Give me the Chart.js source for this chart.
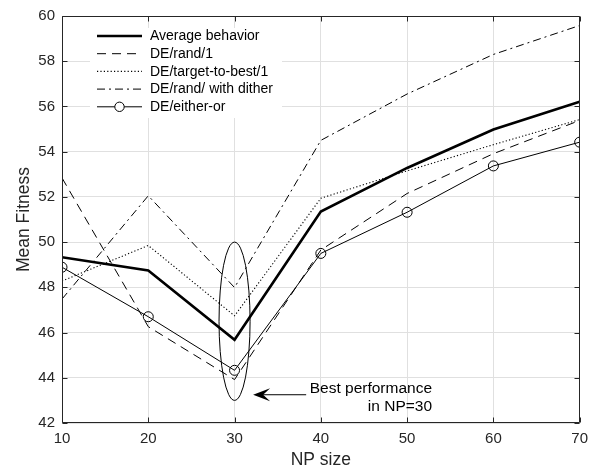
<!DOCTYPE html>
<html>
<head>
<meta charset="utf-8">
<script src="https://cdn.jsdelivr.net/npm/chart.js@4/dist/chart.umd.min.js"></script>
<style>
  html, body { margin: 0; padding: 0; background: #fff; }
  #wrap { width: 595px; height: 471px; }
</style>
</head>
<body>
<div id="wrap"><canvas id="c" width="595" height="471"></canvas></div>
<script>
// ---- data ----
const npSizes = [10, 20, 30, 40, 50, 60, 70];
const avgBehavior     = [49.33, 48.75, 45.68, 51.35, 53.28, 54.98, 56.21];
const deRand1         = [52.84, 46.26, 43.92, 49.65, 52.15, 53.91, 55.38];
const deTargetToBest1 = [48.28, 49.85, 46.74, 51.94, 53.15, 54.31, 55.42];
const deRandDither    = [47.48, 52.05, 47.99, 54.50, 56.55, 58.30, 59.58];
const deEitherOr      = [48.89, 46.70, 44.33, 49.50, 51.32, 53.37, 54.42];

const seriesNames = ['Average behavior', 'DE/rand/1', 'DE/target-to-best/1', 'DE/rand/ with dither', 'DE/either-or'];
const xTicks = [10, 20, 30, 40, 50, 60, 70];
const yTicks = [42, 44, 46, 48, 50, 52, 54, 56, 58, 60];

const annotationLines = ['Best performance', 'in NP=30'];

const FONT = "'Liberation Sans', Arial, Helvetica, sans-serif";
const AXIS_COLOR = '#262626';

function toPoints(ys) { return npSizes.map((x, i) => ({ x: x, y: ys[i] })); }

const styles = [
  { borderWidth: 2.6, borderDash: [], marker: false },
  { borderWidth: 1, borderDash: [9, 6], marker: false },
  { borderWidth: 1.1, borderDash: [1.2, 2.2], marker: false },
  { borderWidth: 1, borderDash: [8, 4, 2, 4], marker: false },
  { borderWidth: 1, borderDash: [], marker: true }
];
const allSeries = [avgBehavior, deRand1, deTargetToBest1, deRandDither, deEitherOr];

const datasets = allSeries.map((ys, i) => ({
  label: seriesNames[i],
  data: toPoints(ys),
  borderColor: '#000',
  backgroundColor: 'rgba(0,0,0,0)',
  borderWidth: styles[i].borderWidth,
  borderDash: styles[i].borderDash,
  tension: 0,
  pointRadius: styles[i].marker ? 5 : 0,
  pointBorderWidth: 1,
  pointBorderColor: '#000',
  pointBackgroundColor: 'rgba(0,0,0,0)',
  pointStyle: 'circle',
  fill: false
}));

const decorPlugin = {
  id: 'decor',
  afterDatasetsDraw(chart) {
    const ctx = chart.ctx;
    const xs = chart.scales.x, ys = chart.scales.y;
    const ca = chart.chartArea;
    ctx.save();

    // ellipse around NP=30
    const cx = xs.getPixelForValue(30), cy = ys.getPixelForValue(46.5);
    const rx = xs.getPixelForValue(31.8) - cx;
    const ry = cy - ys.getPixelForValue(50.0);
    ctx.beginPath();
    ctx.ellipse(cx, cy, rx, ry, 0, 0, Math.PI * 2);
    ctx.strokeStyle = '#000';
    ctx.lineWidth = 1;
    ctx.setLineDash([]);
    ctx.stroke();

    // arrow
    const ay = ys.getPixelForValue(43.25);
    const ax0 = xs.getPixelForValue(38.3), ax1 = xs.getPixelForValue(32.15);
    ctx.beginPath();
    ctx.moveTo(ax0, ay);
    ctx.lineTo(ax1 + 8, ay);
    ctx.stroke();
    ctx.beginPath();
    ctx.moveTo(ax1, ay);
    ctx.lineTo(ax1 + 17, ay - 6.5);
    ctx.lineTo(ax1 + 10, ay);
    ctx.lineTo(ax1 + 17, ay + 6.5);
    ctx.closePath();
    ctx.fillStyle = '#000';
    ctx.fill();

    // annotation text
    ctx.font = '15.5px ' + FONT;
    ctx.textAlign = 'right';
    ctx.textBaseline = 'alphabetic';
    ctx.fillStyle = '#000';
    const tx = xs.getPixelForValue(52.89);
    ctx.fillText(annotationLines[0], tx, ys.getPixelForValue(43.34));
    ctx.fillText(annotationLines[1], tx, ys.getPixelForValue(42.53));

    // legend (no border, white background)
    const lx = ca.left + 28, ly = ca.top + 12, lw = 192, lh = 90;
    ctx.fillStyle = '#fff';
    ctx.fillRect(lx, ly, lw, lh);
    ctx.font = '14px ' + FONT;
    ctx.textAlign = 'left';
    ctx.textBaseline = 'middle';
    for (let i = 0; i < seriesNames.length; i++) {
      const ry2 = ly + 8 + i * 17.7;
      const x0 = ca.left + 35, x1 = ca.left + 80;
      ctx.beginPath();
      ctx.setLineDash(styles[i].borderDash);
      ctx.lineWidth = styles[i].borderWidth;
      ctx.strokeStyle = '#000';
      ctx.moveTo(x0, ry2);
      ctx.lineTo(x1, ry2);
      ctx.stroke();
      ctx.setLineDash([]);
      if (styles[i].marker) {
        ctx.beginPath();
        ctx.fillStyle = '#fff';
        ctx.arc((x0 + x1) / 2, ry2, 4.7, 0, Math.PI * 2);
        ctx.fill();
        ctx.lineWidth = 1;
        ctx.stroke();
      }
      ctx.fillStyle = '#000';
      ctx.fillText(seriesNames[i], ca.left + 88, ry2 + 0.5);
    }

    // box and inward ticks
    ctx.setLineDash([]);
    ctx.strokeStyle = AXIS_COLOR;
    ctx.lineWidth = 1;
    const L = Math.round(ca.left) + 0.5, R = Math.round(ca.right) - 0.5;
    const T = Math.round(ca.top) + 0.5, B = Math.round(ca.bottom) - 0.5;
    ctx.beginPath();
    ctx.rect(L, T, R - L, B - T);
    ctx.stroke();
    const tl = 5;
    ctx.beginPath();
    xTicks.forEach(v => {
      const px = Math.round(xs.getPixelForValue(v)) + 0.5;
      ctx.moveTo(px, B); ctx.lineTo(px, B - tl);
      ctx.moveTo(px, T); ctx.lineTo(px, T + tl);
    });
    yTicks.forEach(v => {
      const py = Math.round(ys.getPixelForValue(v)) + 0.5;
      ctx.moveTo(L, py); ctx.lineTo(L + tl, py);
      ctx.moveTo(R, py); ctx.lineTo(R - tl, py);
    });
    ctx.stroke();
    ctx.restore();
  }
};

new Chart(document.getElementById('c'), {
  type: 'line',
  data: { datasets: datasets },
  options: {
    responsive: false,
    devicePixelRatio: 1,
    animation: false,
    layout: { padding: { left: 0, top: 13, right: 14, bottom: 0 } },
    plugins: { legend: { display: false }, tooltip: { enabled: false } },
    scales: {
      x: {
        type: 'linear',
        min: 10, max: 70,
        afterBuildTicks: s => { s.ticks = xTicks.map(v => ({ value: v })); },
        ticks: { font: { family: FONT, size: 15 }, color: AXIS_COLOR, padding: 7, maxRotation: 0, autoSkip: false },
        grid: { color: '#e0e0e0', drawTicks: false, lineWidth: 1 },
        border: { display: false },
        title: { display: true, text: 'NP size', font: { family: FONT, size: 17.5 }, color: AXIS_COLOR, padding: { top: 0, bottom: 0 } },
        afterFit: s => { s.height = 48; }
      },
      y: {
        type: 'linear',
        min: 42, max: 60,
        afterBuildTicks: s => { s.ticks = yTicks.map(v => ({ value: v })); },
        ticks: { font: { family: FONT, size: 15 }, color: AXIS_COLOR, padding: 7, autoSkip: false },
        grid: { color: '#e0e0e0', drawTicks: false, lineWidth: 1 },
        border: { display: false },
        title: { display: true, text: 'Mean Fitness', font: { family: FONT, size: 17.5 }, color: AXIS_COLOR, padding: { top: 13.5, bottom: 0 } },
        afterFit: s => { s.width = 62; }
      }
    }
  },
  plugins: [decorPlugin]
});
</script>
</body>
</html>
